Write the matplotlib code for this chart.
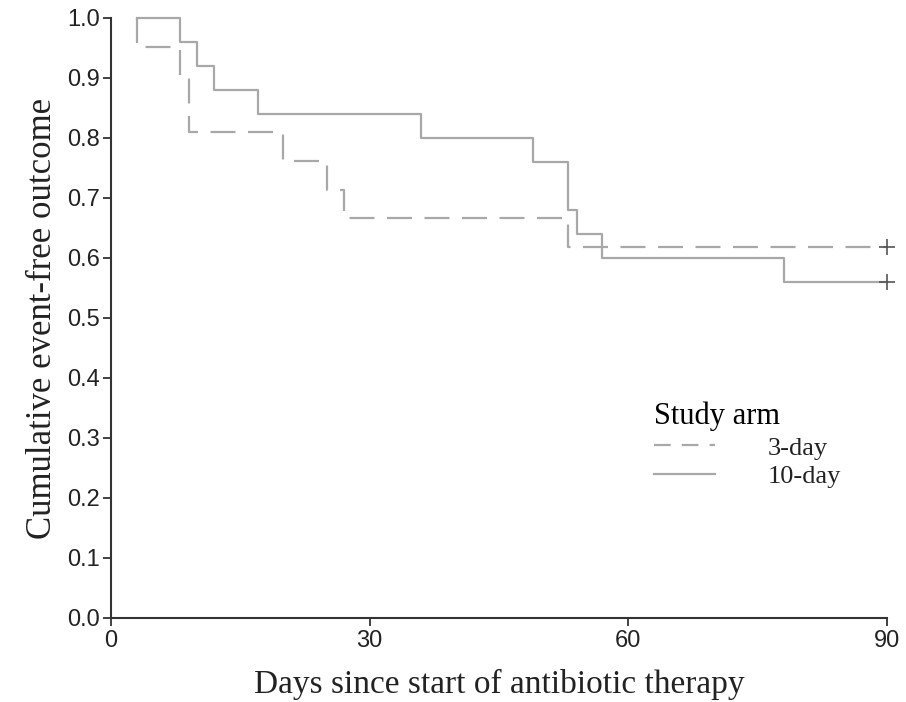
import matplotlib
matplotlib.use('Agg')
import matplotlib.pyplot as plt
from matplotlib.lines import Line2D

# Kaplan-Meier steps
dias_3 = [3, 3, 8, 9, 20, 25, 27, 53, 90]
surv_3 = [1.0, 0.952, 0.905, 0.810, 0.762, 0.714, 0.667, 0.619, 0.619]

dias_10 = [3, 8, 10, 12, 17, 36, 49, 53, 54, 57, 78, 90]
surv_10 = [1.0, 0.96, 0.92, 0.88, 0.84, 0.80, 0.76, 0.68, 0.64, 0.60, 0.56, 0.56]

# censurados al final del seguimiento
cens_x = [90, 90]
cens_y = [0.619, 0.56]

etiquetas = ['3-day', '10-day']
xticks = [0, 30, 60, 90]
yticks = [0.0, 0.1, 0.2, 0.3, 0.4, 0.5, 0.6, 0.7, 0.8, 0.9, 1.0]

plt.rcParams['lines.scale_dashes'] = False
gris = '#a8a8a8'
serif = 'Liberation Serif'
sans = 'Liberation Sans'

fig = plt.figure(figsize=(9.06, 7.02), dpi=100)
ax = fig.add_axes([0.1225, 0.1197, 0.9790 - 0.1225, 0.9744 - 0.1197])

ax.step(dias_3, surv_3, where='post', color=gris, lw=1.6,
        linestyle=(0, (18, 9)), clip_on=False)
ax.step(dias_10, surv_10, where='post', color=gris, lw=1.6, clip_on=False)
ax.plot(cens_x, cens_y, linestyle='none', marker='+', markersize=12,
        markeredgewidth=1.2, color='#555555', clip_on=False)

ax.set_xlim(0, 90)
ax.set_ylim(0, 1.0)
ax.set_xticks(xticks)
ax.set_yticks(yticks)
ax.set_yticklabels([f'{v:.1f}' for v in yticks])
for s in ['top', 'right']:
    ax.spines[s].set_visible(False)
for s in ['left', 'bottom']:
    ax.spines[s].set_linewidth(1.5)
    ax.spines[s].set_color('#333333')
ax.tick_params(axis='both', length=6, width=1.3, color='#333333',
               labelcolor='#222222')
ax.tick_params(axis='x', pad=3)
ax.tick_params(axis='y', pad=2)
for lab in ax.get_xticklabels() + ax.get_yticklabels():
    lab.set_fontfamily(sans)
    lab.set_fontsize(17)

ax.set_xlabel('Days since start of antibiotic therapy', fontfamily=serif,
              fontsize=24, color='#222222', labelpad=12)
ax.set_ylabel('Cumulative event-free outcome', fontfamily=serif,
              fontsize=25, color='#222222', labelpad=6)

handles = [Line2D([], [], color=gris, lw=1.6, linestyle=(0, (12, 8))),
           Line2D([], [], color=gris, lw=1.6)]
leg = ax.legend(handles, etiquetas, title='Study arm', frameon=False,
                loc='upper left', bbox_to_anchor=(0.70, 0.36),
                prop={'family': serif, 'size': 19}, handlelength=2.3,
                handletextpad=2.0, labelspacing=0.18, alignment='left',
                borderpad=0, borderaxespad=0)
leg.get_title().set_fontfamily(serif)
leg.get_title().set_fontsize(22)
for t in leg.get_texts():
    t.set_color('#222222')

fig.savefig('out.png', dpi=100)
